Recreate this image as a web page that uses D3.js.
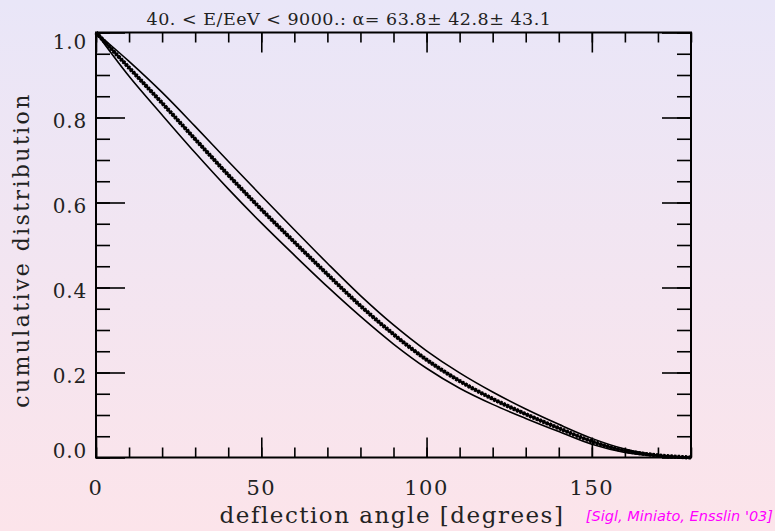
<!DOCTYPE html>
<html>
<head>
<meta charset="utf-8">
<script src="https://cdn.jsdelivr.net/npm/d3@7"></script>
<style>
  body { margin: 0; padding: 0; }
  svg { display: block; }
</style>
</head>
<body>
<script>
// data
var angles = [0, 10, 20, 30, 40, 50, 60, 70, 80, 90, 100, 110, 120, 130, 140, 150, 160, 170, 180];
var central = [1.0, 0.917, 0.834, 0.749, 0.665, 0.584, 0.507, 0.431, 0.357, 0.29, 0.23, 0.18, 0.138, 0.102, 0.069, 0.038, 0.016, 0.005, 0.0];
var upper = [1.0, 0.932, 0.859, 0.779, 0.697, 0.616, 0.536, 0.457, 0.381, 0.312, 0.251, 0.199, 0.154, 0.114, 0.078, 0.045, 0.02, 0.006, 0.0];
var lower = [1.0, 0.897, 0.806, 0.717, 0.632, 0.552, 0.476, 0.402, 0.332, 0.267, 0.21, 0.163, 0.125, 0.092, 0.061, 0.031, 0.012, 0.003, 0.0];
var xMajor = [0, 50, 100, 150];
var yMajor = [0, 0.2, 0.4, 0.6, 0.8, 1.0];
var titleText = "40. < E/EeV < 9000.: \u03b1= 63.8\u00b1 42.8\u00b1 43.1";

var svgWidth = 775;
var svgHeight = 531;
var margin = { top: 32.5, right: 84, bottom: 73.5, left: 96 };
var width = svgWidth - margin.left - margin.right;
var height = svgHeight - margin.top - margin.bottom;

var svg = d3.select("body").append("svg")
  .attr("width", svgWidth)
  .attr("height", svgHeight);

// background gradient
var grad = svg.append("defs").append("linearGradient")
  .attr("id", "bg").attr("x1", 0).attr("y1", 0).attr("x2", 0).attr("y2", 1);
grad.append("stop").attr("offset", "0%").attr("stop-color", "#e9e6f8");
grad.append("stop").attr("offset", "100%").attr("stop-color", "#fce4ea");
svg.append("rect").attr("width", svgWidth).attr("height", svgHeight).attr("fill", "url(#bg)");

var chartGroup = svg.append("g")
  .attr("transform", `translate(${margin.left}, ${margin.top})`);

var xScale = d3.scaleLinear().domain([0, 180]).range([0, width]);
var yScale = d3.scaleLinear().domain([0, 1]).range([height, 0]);

var xMinor = d3.range(0, 181, 10);
var yMinor = d3.range(0, 1.0001, 0.05);

function styleAxis(g) {
  g.select(".domain").remove();
  g.selectAll("text").remove();
  g.selectAll("line").attr("stroke", "#000").attr("stroke-width", 1.6);
}

// minor + major ticks on all four sides
chartGroup.append("g").attr("transform", `translate(0, ${height})`)
  .call(d3.axisTop(xScale).tickValues(xMinor).tickSize(10)).call(styleAxis);
chartGroup.append("g").attr("transform", `translate(0, ${height})`)
  .call(d3.axisTop(xScale).tickValues(xMajor).tickSize(20)).call(styleAxis);
chartGroup.append("g")
  .call(d3.axisBottom(xScale).tickValues(xMinor).tickSize(10)).call(styleAxis);
chartGroup.append("g")
  .call(d3.axisBottom(xScale).tickValues(xMajor).tickSize(20)).call(styleAxis);
chartGroup.append("g")
  .call(d3.axisRight(yScale).tickValues(yMinor).tickSize(14)).call(styleAxis);
chartGroup.append("g")
  .call(d3.axisRight(yScale).tickValues(yMajor).tickSize(29)).call(styleAxis);
chartGroup.append("g").attr("transform", `translate(${width}, 0)`)
  .call(d3.axisLeft(yScale).tickValues(yMinor).tickSize(14)).call(styleAxis);
chartGroup.append("g").attr("transform", `translate(${width}, 0)`)
  .call(d3.axisLeft(yScale).tickValues(yMajor).tickSize(29)).call(styleAxis);

// frame
chartGroup.append("rect")
  .attr("width", width).attr("height", height)
  .attr("fill", "none").attr("stroke", "#000").attr("stroke-width", 2);

// tick labels
chartGroup.selectAll(".xlab").data(xMajor).enter().append("text")
  .attr("x", d => xScale(d))
  .attr("y", height + 37)
  .attr("text-anchor", "middle")
  .style("font-family", "DejaVu Serif")
  .style("font-size", "21px")
  .style("letter-spacing", "1.5px")
  .attr("fill", "#222")
  .text(d => d);

chartGroup.selectAll(".ylab").data(yMajor).enter().append("text")
  .attr("x", -9)
  .attr("y", d => Math.min(Math.max(yScale(d) + 3, 9), height - 7))
  .attr("dy", "0.35em")
  .attr("text-anchor", "end")
  .style("font-family", "DejaVu Serif")
  .style("font-size", "20px")
  .style("letter-spacing", "0.8px")
  .attr("fill", "#222")
  .text(d => d.toFixed(1));

// curves
var line = d3.line()
  .x((d, i) => xScale(angles[i]))
  .y(d => yScale(d))
  .curve(d3.curveCatmullRom.alpha(0.5));

chartGroup.append("path").datum(upper)
  .attr("d", line).attr("fill", "none").attr("stroke", "#000").attr("stroke-width", 1.6);
chartGroup.append("path").datum(lower)
  .attr("d", line).attr("fill", "none").attr("stroke", "#000").attr("stroke-width", 1.6);
chartGroup.append("path").datum(central)
  .attr("d", line).attr("fill", "none").attr("stroke", "#000").attr("stroke-width", 4.2)
  .attr("stroke-dasharray", "2.4,1.2");
chartGroup.append("path").datum(central)
  .attr("d", line).attr("fill", "none").attr("stroke", "#000").attr("stroke-width", 2.4);

// title and axis labels
svg.append("text")
  .attr("x", 349).attr("y", 25)
  .attr("text-anchor", "middle")
  .style("font-family", "DejaVu Serif")
  .style("font-size", "17.5px")
  .style("letter-spacing", "0.5px")
  .attr("fill", "#222")
  .text(titleText);

svg.append("text")
  .attr("x", 392).attr("y", 523)
  .attr("text-anchor", "middle")
  .style("font-family", "DejaVu Serif")
  .style("font-size", "23px")
  .style("letter-spacing", "1.5px")
  .attr("fill", "#222")
  .text("deflection angle [degrees]");

svg.append("text")
  .attr("transform", "translate(29, 250) rotate(-90)")
  .attr("text-anchor", "middle")
  .style("font-family", "DejaVu Serif")
  .style("font-size", "22px")
  .style("letter-spacing", "2.4px")
  .attr("fill", "#222")
  .text("cumulative distribution");

svg.append("text")
  .attr("x", 773).attr("y", 521)
  .attr("text-anchor", "end")
  .style("font-family", "DejaVu Sans")
  .style("font-style", "italic")
  .style("font-size", "14.5px")
  .attr("fill", "#ff00ff")
  .text("[Sigl, Miniato, Ensslin '03]");
</script>
</body>
</html>
